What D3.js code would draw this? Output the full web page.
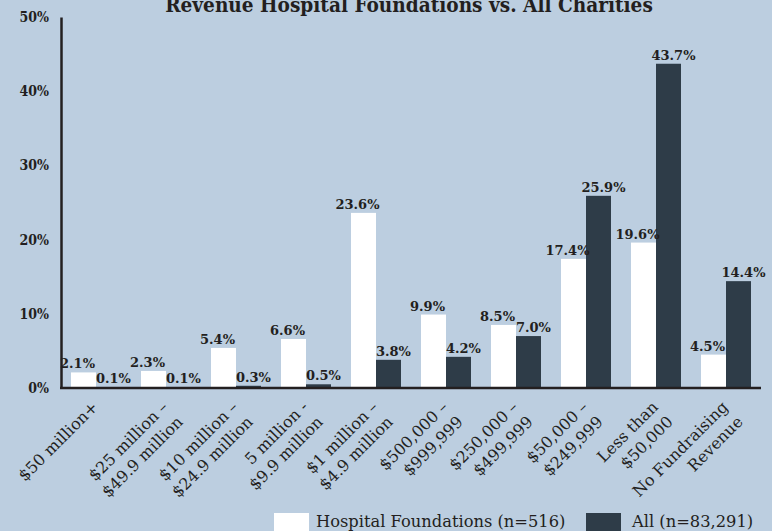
<!DOCTYPE html>
<html>
<head>
<meta charset="utf-8">
<script src="https://cdnjs.cloudflare.com/ajax/libs/d3/7.8.5/d3.min.js"></script>
<style>
  html, body { margin: 0; padding: 0; background: #bccee0; }
  #chart { width: 772px; height: 531px; overflow: hidden; }
</style>
</head>
<body>
<div id="chart"></div>
<script>
// Chart data
const categories = [
    ["$50 million+"],
    ["$25 million –", "$49.9 million"],
    ["$10 million –", "$24.9 million"],
    ["5 million -", "$9.9 million"],
    ["$1 million –", "$4.9 million"],
    ["$500,000 –", "$999,999"],
    ["$250,000 –", "$499,999"],
    ["$50,000 –", "$249,999"],
    ["Less than", "$50,000"],
    ["No Fundraising", "Revenue"]
];
const hospitalValues = [2.1, 2.3, 5.4, 6.6, 23.6, 9.9, 8.5, 17.4, 19.6, 4.5];
const allValues = [0.1, 0.1, 0.3, 0.5, 3.8, 4.2, 7.0, 25.9, 43.7, 14.4];
const seriesNames = ["Hospital Foundations (n=516)", "All (n=83,291)"];
const yTicks = [0, 10, 20, 30, 40, 50];

const width = 772;
const height = 531;
const colors = ["#ffffff", "#2e3c48"];
const textColor = "#231f20";
const condensed = "'DejaVu Serif Condensed', 'DejaVu Serif', serif";
const serif = "'DejaVu Serif', serif";

const svg = d3.select("#chart")
    .append("svg")
    .attr("width", width)
    .attr("height", height)
    .style("background", "#bccee0");

// Scales
const x = d3.scaleBand()
    .domain(d3.range(categories.length))
    .range([61, 761])
    .paddingInner(20 / 70)
    .paddingOuter(10 / 70);

const xInner = d3.scaleBand()
    .domain([0, 1])
    .range([0, x.bandwidth()]);

const y = d3.scaleLinear()
    .domain([0, 50])
    .range([388, 17]);

// Title (partly cut off at the top, as in the original)
svg.append("text")
    .attr("x", 409)
    .attr("y", 12)
    .attr("text-anchor", "middle")
    .style("font-family", condensed)
    .style("font-stretch", "condensed")
    .style("font-weight", "bold")
    .style("font-size", "20.6px")
    .style("fill", textColor)
    .text("Revenue Hospital Foundations vs. All Charities");

// Bars
const rows = categories.map((c, i) => [hospitalValues[i], allValues[i]]);

const groups = svg.append("g")
    .selectAll("g")
    .data(rows)
    .join("g")
    .attr("transform", (d, i) => `translate(${x(i)},0)`);

groups.selectAll("rect")
    .data(d => d)
    .join("rect")
    .attr("x", (d, j) => xInner(j))
    .attr("y", d => y(d))
    .attr("width", xInner.bandwidth())
    .attr("height", d => y(0) - y(d))
    .attr("fill", (d, j) => colors[j]);

// Value labels
groups.selectAll("text")
    .data(d => d)
    .join("text")
    .attr("x", (d, j) => xInner(j) + xInner.bandwidth() / 2 + (j === 0 ? -6 : 5))
    .attr("y", d => y(d) - 4)
    .attr("text-anchor", "middle")
    .style("font-family", serif)
    .style("font-weight", "bold")
    .style("font-size", "13px")
    .style("fill", textColor)
    .text(d => d.toFixed(1) + "%");

// Y axis
const yAxis = svg.append("g")
    .attr("transform", "translate(61,0)")
    .call(d3.axisLeft(y).tickValues(yTicks).tickSize(0).tickPadding(12).tickFormat(d => d + "%"));

yAxis.select(".domain")
    .attr("stroke", textColor)
    .attr("stroke-width", 2.5);

yAxis.selectAll("text")
    .style("font-family", condensed)
    .style("font-stretch", "condensed")
    .style("font-weight", "bold")
    .style("font-size", "14px")
    .style("fill", textColor);

// X axis baseline
svg.append("line")
    .attr("x1", 60)
    .attr("x2", 761)
    .attr("y1", y(0))
    .attr("y2", y(0))
    .attr("stroke", textColor)
    .attr("stroke-width", 2.5);

// Category labels, rotated
const catLabels = svg.append("g")
    .selectAll("text")
    .data(categories)
    .join("text")
    .attr("transform", (d, i) => `translate(${x(i) + x.bandwidth() / 2 + 3},408) rotate(-45)`)
    .attr("text-anchor", "end")
    .style("font-family", serif)
    .style("font-size", "16px")
    .style("fill", textColor);

catLabels.selectAll("tspan")
    .data(d => d)
    .join("tspan")
    .attr("x", 0)
    .attr("dy", (d, k) => k === 0 ? 0 : 21)
    .text(d => d);

// Legend
const legendItems = [
    { rx: 274, tx: 316 },
    { rx: 586, tx: 632 }
];

const legend = svg.append("g")
    .selectAll("g")
    .data(seriesNames)
    .join("g");

legend.append("rect")
    .attr("x", (d, i) => legendItems[i].rx)
    .attr("y", 513)
    .attr("width", 35)
    .attr("height", 20)
    .attr("fill", (d, i) => colors[i]);

legend.append("text")
    .attr("x", (d, i) => legendItems[i].tx)
    .attr("y", 527)
    .style("font-family", serif)
    .style("font-size", "16.3px")
    .style("fill", textColor)
    .text(d => d);
</script>
</body>
</html>
